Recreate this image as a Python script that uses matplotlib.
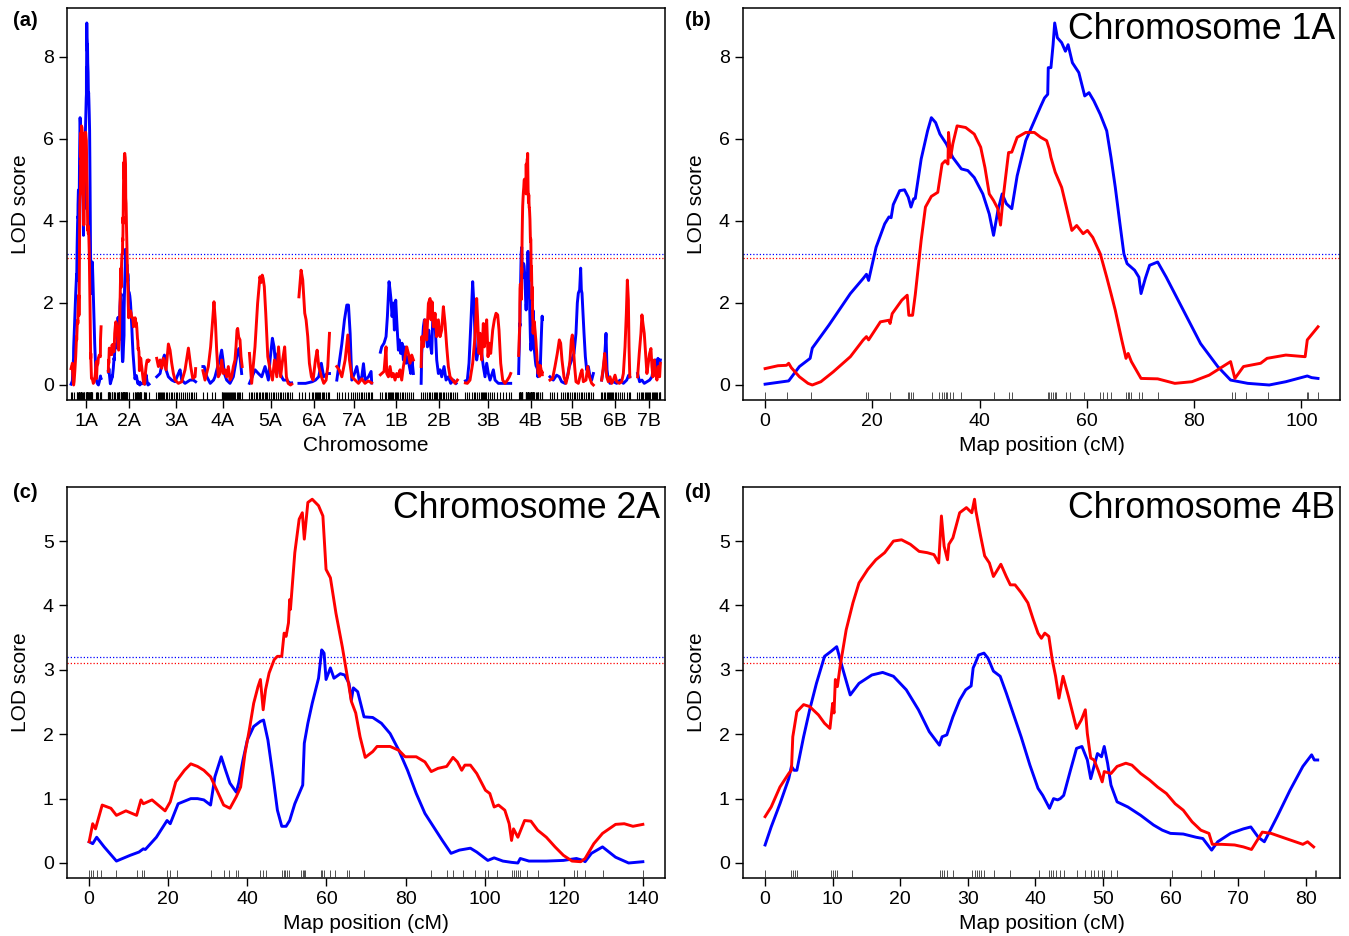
import matplotlib
matplotlib.use('Agg')
import matplotlib.pyplot as plt
import numpy as np

plt.rcParams['font.family'] = ['Liberation Sans', 'DejaVu Sans']

BLUE = '#0000ff'
RED = '#ff0000'

# genome scan layout
chroms = ['1A', '2A', '3A', '4A', '5A', '6A', '7A', '1B', '2B', '3B', '4B', '5B', '6B', '7B']
chrom_len = [103, 140, 135, 135, 145, 105, 120, 120, 125, 160, 82, 150, 100, 80]
gap = 25

# significance thresholds
thr_blue = 3.2
thr_red = 3.1

# ---- chromosome 1A (cM, LOD) ----
c1a_blue = [(0, 0.02), (4.4, 0.1), (6.4, 0.45), (8.4, 0.65), (8.8, 0.9), (11.9, 1.46), (15.9, 2.23),
            (18.3, 2.6), (18.9, 2.7), (19.3, 2.55), (20.7, 3.36), (22.3, 3.93), (23.1, 4.1), (23.5, 4.08),
            (23.9, 4.4), (25.1, 4.74), (26.0, 4.76), (26.7, 4.58), (27.2, 4.34), (27.7, 4.54), (28.0, 4.55),
            (29.1, 5.51), (30.3, 6.2), (31.0, 6.52), (31.8, 6.4), (32.6, 6.12), (33.8, 5.88), (35.0, 5.55),
            (36.6, 5.27), (37.8, 5.23), (39.0, 5.06), (40.6, 4.66), (41.8, 4.17), (42.6, 3.65), (43.4, 4.25),
            (44.2, 4.66), (45.0, 4.42), (46.0, 4.3), (47.0, 5.1), (48.6, 5.96), (50.2, 6.44), (51.4, 6.8),
            (52.1, 7.0), (52.7, 7.09), (52.8, 7.74), (53.3, 7.74), (53.7, 8.3), (54.0, 8.83), (54.5, 8.47),
            (55.3, 8.35), (56.0, 8.14), (56.5, 8.3), (57.3, 7.86), (58.5, 7.62), (59.6, 7.05), (60.4, 7.13),
            (61.3, 6.93), (62.5, 6.6), (63.7, 6.2), (64.5, 5.55), (65.3, 4.82), (66.1, 4.0), (66.9, 3.2),
            (67.5, 2.96), (68.9, 2.8), (69.7, 2.63), (70.1, 2.23), (70.9, 2.6), (71.7, 2.92), (73.2, 3.0),
            (74.8, 2.63), (78.0, 1.82), (81.2, 1.01), (84.4, 0.45), (86.8, 0.12), (90.0, 0.04), (94.0, 0.0),
            (97.1, 0.08), (101.1, 0.22), (101.9, 0.18), (103.1, 0.16)]
c1a_red = [(0, 0.4), (2.4, 0.47), (4.0, 0.48), (4.4, 0.53), (4.9, 0.42), (6.4, 0.2), (8.0, 0.04), (8.8, 0.0),
           (10.4, 0.08), (12.7, 0.32), (15.9, 0.69), (18.3, 1.1), (18.9, 1.18), (19.3, 1.1), (21.5, 1.54),
           (23.1, 1.58), (23.3, 1.5), (23.7, 1.74), (25.5, 2.07), (26.5, 2.19), (26.8, 1.7), (27.5, 1.7),
           (28.0, 2.2), (29.1, 3.53), (29.9, 4.34), (31.0, 4.6), (32.2, 4.7), (33.0, 5.39), (33.6, 5.47),
           (34.1, 5.39), (34.2, 6.16), (34.6, 5.55), (35.0, 5.88), (35.8, 6.32), (37.4, 6.28), (39.0, 6.12),
           (40.2, 5.8), (41.0, 5.3), (41.8, 4.66), (42.6, 4.5), (43.4, 4.3), (43.9, 3.9), (44.4, 4.58),
           (45.4, 5.67), (46.0, 5.68), (47.0, 6.04), (48.6, 6.16), (50.2, 6.16), (51.4, 6.04), (52.5, 5.96),
           (53.0, 5.75), (53.3, 5.55), (54.1, 5.19), (55.3, 4.82), (56.1, 4.38), (57.2, 3.77), (58.1, 3.89),
           (59.3, 3.69), (60.1, 3.77), (61.1, 3.6), (62.5, 3.2), (63.7, 2.63), (64.5, 2.23), (65.3, 1.82),
           (66.5, 1.1), (67.3, 0.65), (67.7, 0.77), (68.3, 0.57), (70.1, 0.16), (73.2, 0.15), (76.4, 0.04),
           (79.6, 0.08), (82.8, 0.24), (86.8, 0.57), (87.6, 0.16), (89.2, 0.45), (92.4, 0.53), (93.6, 0.65),
           (97.1, 0.73), (100.7, 0.69), (101.1, 1.1), (103.1, 1.42)]
c1a_markers = [0, 4.0, 8.6, 18.9, 19.2, 23.3, 26.7, 26.9, 27.2, 27.5, 31.1, 32.5, 33.0, 33.4, 33.7, 34.0,
               34.5, 35.0, 36.6, 42.6, 45.4, 46.0, 52.7, 53.0, 53.3, 53.7, 54.0, 54.3, 56.1, 56.9, 59.5,
               62.5, 63.1, 63.7, 64.5, 67.3, 67.7, 67.9, 68.2, 69.7, 70.2, 73.2, 87.1, 87.7, 89.6, 93.8,
               101.0, 101.3, 103.1]

# ---- chromosome 2A ----
c2a_blue = [(0, 0.33), (0.9, 0.3), (1.9, 0.4), (3.8, 0.25), (6.9, 0.03), (10.4, 0.12), (12.6, 0.17),
            (13.7, 0.22), (14.2, 0.21), (17.0, 0.4), (19.7, 0.66), (20.5, 0.61), (22.5, 0.92), (25.7, 1.0),
            (27.4, 1.0), (29.0, 0.98), (30.7, 0.9), (31.8, 1.34), (33.4, 1.65), (34.5, 1.44), (35.6, 1.24),
            (37.2, 1.1), (37.8, 1.24), (38.9, 1.6), (40.0, 1.91), (41.6, 2.12), (43.3, 2.2), (44.1, 2.22),
            (45.2, 1.91), (46.5, 1.34), (47.6, 0.82), (48.7, 0.57), (49.8, 0.57), (50.7, 0.66), (52.0, 0.92),
            (54.0, 1.21), (54.4, 1.86), (55.3, 2.17), (56.4, 2.48), (58.0, 2.87), (58.8, 3.31), (59.4, 3.26),
            (59.9, 2.85), (61.0, 3.03), (61.9, 2.87), (63.5, 2.94), (64.6, 2.92), (65.7, 2.79), (66.3, 2.53),
            (66.8, 2.72), (67.9, 2.66), (69.5, 2.27), (71.7, 2.26), (73.9, 2.17), (76.1, 2.01), (78.3, 1.75),
            (80.5, 1.44), (82.7, 1.08), (84.9, 0.77), (87.1, 0.56), (89.3, 0.35), (91.5, 0.15), (93.6, 0.2),
            (96.4, 0.23), (98.0, 0.17), (100.8, 0.04), (102.4, 0.08), (104.6, 0.03), (106.8, 0.01),
            (108.4, 0.0), (109.0, 0.07), (111.2, 0.03), (115.6, 0.03), (119.9, 0.04), (123.2, 0.07),
            (124.9, 0.04), (125.4, 0.02), (127.0, 0.15), (129.8, 0.25), (133.1, 0.09), (136.4, 0.0),
            (140.0, 0.02)]
c2a_red = [(0, 0.33), (0.9, 0.61), (1.6, 0.53), (3.3, 0.9), (5.5, 0.85), (6.9, 0.74), (9.3, 0.81), (12.0, 0.74),
           (13.1, 0.98), (13.7, 0.92), (15.9, 0.98), (19.2, 0.81), (20.5, 0.95), (21.9, 1.26), (24.1, 1.44),
           (25.7, 1.54), (27.4, 1.5), (29.0, 1.44), (30.7, 1.34), (32.3, 1.13), (34.0, 0.9), (35.6, 0.85),
           (37.2, 1.03), (38.3, 1.18), (39.4, 1.7), (40.5, 2.07), (41.6, 2.48), (42.7, 2.74), (43.3, 2.85),
           (44.0, 2.38), (44.6, 2.69), (45.5, 2.95), (46.8, 3.16), (47.6, 3.21), (48.7, 3.21), (49.3, 3.57),
           (49.8, 3.52), (50.4, 3.73), (50.7, 4.09), (50.9, 3.94), (52.0, 4.82), (53.1, 5.34), (53.9, 5.44),
           (54.4, 5.03), (55.3, 5.6), (56.4, 5.65), (58.0, 5.55), (59.1, 5.39), (59.9, 4.56), (61.0, 4.43),
           (62.4, 3.88), (64.0, 3.36), (65.7, 2.74), (66.3, 2.51), (67.4, 2.33), (68.5, 1.96), (69.8, 1.64),
           (71.7, 1.73), (72.8, 1.81), (76.1, 1.81), (78.3, 1.75), (79.9, 1.65), (82.7, 1.65), (84.9, 1.57),
           (86.5, 1.42), (88.2, 1.47), (90.4, 1.5), (92.0, 1.64), (93.1, 1.57), (94.2, 1.44), (95.0, 1.52),
           (96.4, 1.52), (98.0, 1.39), (100.2, 1.13), (101.3, 1.08), (102.4, 0.87), (103.5, 0.9),
           (105.1, 0.82), (106.2, 0.61), (106.8, 0.35), (107.3, 0.53), (108.4, 0.4), (110.1, 0.66),
           (111.7, 0.65), (113.4, 0.51), (115.6, 0.4), (117.8, 0.25), (119.9, 0.12), (122.1, 0.03),
           (124.3, 0.02), (125.4, 0.07), (127.6, 0.3), (129.8, 0.46), (133.1, 0.6), (135.3, 0.61),
           (137.5, 0.57), (140.0, 0.6)]
c2a_markers = [0, 0.5, 1.1, 1.9, 3.1, 6.9, 12.0, 13.4, 13.9, 19.7, 20.5, 22.2, 30.9, 34.0, 35.4, 37.2, 37.6,
               43.3, 44.0, 44.6, 48.7, 49.2, 49.6, 50.1, 50.5, 53.6, 54.0, 54.3, 54.7, 58.6, 59.0, 59.5,
               61.0, 62.2, 65.1, 65.8, 69.5, 86.5, 90.4, 92.0, 94.5, 97.5, 100.2, 100.8, 103.0, 106.8,
               107.4, 107.9, 108.4, 109.0, 110.6, 113.4, 122.7, 123.3, 125.4, 129.8, 140.0]

# ---- chromosome 4B ----
c4b_blue = [(0, 0.28), (0.9, 0.56), (2.2, 0.92), (3.5, 1.31), (3.9, 1.5), (4.3, 1.44), (4.7, 1.44), (5.7, 1.96),
            (6.6, 2.38), (7.6, 2.79), (8.8, 3.21), (9.8, 3.29), (10.6, 3.36), (11.4, 3.05), (12.6, 2.61),
            (13.9, 2.79), (15.8, 2.92), (17.4, 2.96), (19.0, 2.9), (20.9, 2.69), (22.7, 2.38), (24.3, 2.04),
            (25.8, 1.83), (26.2, 1.96), (26.9, 1.99), (27.8, 2.27), (28.8, 2.53), (29.7, 2.69), (30.5, 2.75),
            (30.8, 3.03), (31.1, 3.1), (31.6, 3.23), (32.4, 3.26), (33.0, 3.18), (33.8, 2.98), (34.8, 2.9),
            (35.7, 2.64), (36.7, 2.33), (37.9, 1.96), (39.2, 1.52), (40.4, 1.16), (41.1, 1.05), (42.1, 0.85),
            (42.7, 1.0), (43.3, 0.98), (43.7, 1.0), (44.2, 1.05), (45.2, 1.44), (46.1, 1.78), (46.9, 1.81),
            (47.7, 1.6), (48.2, 1.31), (49.2, 1.7), (49.8, 1.65), (50.2, 1.81), (50.7, 1.55), (51.2, 1.21),
            (52.1, 0.95), (53.7, 0.87), (55.6, 0.74), (57.5, 0.59), (58.8, 0.51), (60.0, 0.46), (61.9, 0.45),
            (63.8, 0.4), (64.8, 0.38), (66.1, 0.2), (67.0, 0.33), (68.9, 0.46), (70.8, 0.53), (71.9, 0.56),
            (73.0, 0.4), (73.9, 0.33), (75.8, 0.72), (77.7, 1.13), (79.6, 1.5), (80.9, 1.68), (81.3, 1.6),
            (81.8, 1.6)]
c4b_red = [(0, 0.72), (0.9, 0.87), (2.2, 1.18), (3.5, 1.39), (3.9, 1.44), (4.1, 1.96), (4.7, 2.35), (5.7, 2.46),
           (6.6, 2.43), (7.9, 2.3), (8.8, 2.17), (9.6, 2.09), (10.0, 2.48), (10.2, 2.33), (10.4, 2.85),
           (10.7, 2.74), (11.1, 3.05), (12.0, 3.62), (13.0, 4.04), (13.9, 4.35), (15.2, 4.56), (16.4, 4.71),
           (17.7, 4.82), (19.0, 5.0), (20.2, 5.02), (21.5, 4.95), (22.8, 4.84), (24.0, 4.82), (25.0, 4.79),
           (25.7, 4.66), (26.1, 5.39), (26.5, 4.92), (27.0, 4.71), (27.2, 4.95), (27.8, 5.05), (28.8, 5.44),
           (29.8, 5.52), (30.6, 5.44), (31.0, 5.65), (31.2, 5.47), (31.9, 5.08), (32.5, 4.77), (33.2, 4.66),
           (33.8, 4.45), (34.9, 4.64), (35.7, 4.45), (36.3, 4.32), (37.0, 4.32), (37.9, 4.2), (38.9, 4.04),
           (39.7, 3.78), (40.4, 3.57), (40.9, 3.49), (41.4, 3.57), (42.0, 3.52), (42.5, 3.16), (43.0, 2.9),
           (43.5, 2.56), (44.1, 2.9), (44.9, 2.59), (46.1, 2.09), (46.8, 2.22), (47.4, 2.38), (47.7, 2.01),
           (48.2, 1.63), (48.7, 1.6), (49.3, 1.44), (49.9, 1.26), (50.2, 1.42), (51.2, 1.39), (52.1, 1.5),
           (53.4, 1.55), (54.3, 1.52), (55.6, 1.39), (56.9, 1.29), (58.1, 1.18), (59.4, 1.08), (60.7, 0.92),
           (61.9, 0.82), (63.2, 0.64), (64.5, 0.51), (65.7, 0.46), (66.2, 0.29), (67.6, 0.29), (69.5, 0.28),
           (70.8, 0.25), (72.0, 0.21), (73.6, 0.48), (74.9, 0.46), (77.1, 0.38), (79.6, 0.29), (80.3, 0.33),
           (81.2, 0.25)]
c4b_markers = [0, 3.9, 4.1, 4.4, 4.7, 9.8, 10.1, 10.4, 10.6, 12.9, 25.9, 26.2, 26.5, 26.9, 27.8, 30.6, 31.0,
               31.3, 31.6, 31.9, 32.4, 33.9, 36.3, 40.6, 42.0, 42.3, 42.6, 43.0, 43.6, 44.2, 46.1, 47.4,
               48.2, 48.7, 49.3, 49.9, 50.2, 51.2, 52.1, 60.3, 64.5, 66.4, 66.5, 73.9, 81.4, 81.6]

# ---- remaining chromosomes (genome scan only) ----
c3a_blue = [(1.3, 0.2), (12.8, 0.28), (22, 0.61), (27.7, 0.73), (33.4, 0.37), (41.4, 0.2), (52.9, 0.12),
            (64.3, 0.08), (75.8, 0.28), (81.5, 0.37), (87.3, 0.12), (98.7, 0.04), (115.9, 0.12),
            (127.4, 0.12), (135, 0.08)]
c3a_red = [(1.3, 0.65), (7.1, 0.45), (12.8, 0.61), (18.5, 0.41), (24.3, 0.65), (33.4, 0.37), (41.4, 1.0),
           (47.1, 0.85), (52.9, 0.53), (58.6, 0.28), (64.3, 0.12), (75.8, 0.04), (87.3, 0.08), (98.7, 0.37),
           (110.2, 0.9), (118.2, 0.45), (125.1, 0.16), (133.1, 0.2), (135, 0.4)]
c3a_markers = [0, 4, 8, 12, 15, 19, 24, 28, 33, 38, 44, 50, 55, 61, 66, 72, 78, 84, 90, 97, 104, 112, 118,
               124, 130, 135]

c4a_blue = [(0, 0.45), (4.6, 0.45), (13.7, 0.2), (25.2, 0.04), (36.6, 0.12), (41.6, 0.2), (50.8, 0.45),
            (57.7, 0.61), (64.5, 0.85), (69.1, 0.61), (73.7, 0.28), (81.7, 0.12), (93.1, 0.04), (104.6, 0.2),
            (112.6, 0.53), (118.3, 0.77), (124, 0.89), (128.6, 0.61), (133.2, 0.28)]
c4a_red = [(0, 0.35), (7.2, 0.12), (18.6, 0.45), (26.6, 0.93), (33.5, 1.58), (38.1, 2.03), (42.7, 1.58),
           (47.3, 0.85), (53, 0.2), (58.8, 0.28), (64.5, 0.61), (70.2, 0.28), (75.9, 0.37), (81.7, 0.2),
           (87.4, 0.45), (93.1, 0.12), (98.9, 0.2), (104.6, 0.45), (110.3, 0.61), (113.8, 0.93),
           (117.2, 1.34), (119.5, 1.38), (122.9, 1.17), (127.5, 1.1), (131, 0.69), (135, 0.45)]
c4a_markers = [1, 13, 33, 41, 64, 67, 70, 73, 76, 79, 82, 85, 88, 92, 96, 100, 104, 108, 112, 116, 120, 124,
               128, 133]

c5a_blue = [(0, 0.04), (19.2, 0.37), (30.7, 0.28), (42.1, 0.2), (53.6, 0.45), (65, 0.12), (70.8, 0.61),
            (78.8, 1.14), (84.5, 0.93), (90.3, 0.45), (97.1, 0.77), (105.2, 0.28), (116.6, 0.12),
            (128.1, 0.12), (139.5, 0.04), (145, 0.05)]
c5a_red = [(0, 0.77), (7.6, 0.04), (19, 0.93), (28, 1.99), (36, 2.64), (40, 2.5), (44, 2.68), (47, 2.6),
           (51, 2.4), (56, 1.75), (63, 0.69), (71, 0.37), (79, 0.12), (86, 0.61), (94, 0.2), (100, 0.93),
           (107, 0.2), (114, 0.61), (121, 0.93), (127, 0.2), (133, 0.04), (141, 0.0), (145, 0.02)]
c5a_markers = [0, 5, 10, 16, 22, 27, 32, 37, 42, 47, 52, 57, 62, 68, 74, 80, 86, 92, 98, 104, 110, 116, 122,
               128, 134, 140, 145]

c6a_blue = [(0, 0.04), (23, 0.04), (46, 0.08), (57, 0.12), (68, 0.2), (77, 0.53), (85, 0.2), (97, 0.28),
            (105, 0.28)]
c6a_red = [(0, 2.15), (7.4, 2.8), (13.1, 2.56), (20, 1.75), (24.6, 1.59), (30.3, 1.18), (36, 0.53),
           (43, 0.2), (48.7, 0.12), (56.7, 0.61), (62.5, 0.85), (68.2, 0.45), (77.4, 0.2), (85.4, 0.04),
           (93.4, 0.12), (99.1, 0.45), (105, 1.26)]
c6a_markers = [0, 10, 20, 33, 45, 50, 54, 58, 62, 66, 70, 74, 78, 82, 86, 92, 100, 105]

c7a_blue = [(0.2, 0.12), (8.2, 0.53), (17.4, 1.0), (26.5, 1.59), (34.5, 1.95), (40.3, 1.95), (46, 1.26),
            (51.7, 0.12), (60.9, 0.28), (68.9, 0.45), (76.9, 0.12), (86.1, 0.2), (91.8, 0.52), (97.5, 0.12),
            (109, 0.2), (118, 0.33), (120, 0.05)]
c7a_red = [(0.2, 0.45), (8.2, 0.37), (17.4, 0.2), (28.8, 0.61), (38, 1.22), (43.7, 0.61), (51.7, 0.2),
           (63.2, 0.12), (74.6, 0.04), (86, 0.15), (97, 0.04), (108, 0.1), (120, 0.05)]
c7a_markers = [0, 8, 18, 30, 40, 48, 56, 64, 70, 76, 82, 88, 94, 100, 106, 112, 116, 120]

c1b_blue = [(5, 0.8), (9.5, 0.93), (17.5, 1.02), (24.4, 1.18), (29, 1.67), (34.7, 2.52), (38.1, 2.32),
            (41.6, 2.07), (45, 1.67), (49.6, 2.0), (53, 1.34), (57.6, 2.07), (61, 1.59), (66.8, 0.85),
            (70.2, 1.1), (74.8, 0.77), (79.4, 1.02), (84, 0.61), (88.5, 0.93), (93.1, 0.53), (98.8, 0.69),
            (104.6, 0.45), (109.2, 0.28), (113.7, 0.61), (118.3, 0.28)]
c1b_red = [(5, 0.25), (9.5, 0.28), (17.5, 0.33), (24.4, 0.93), (26.7, 0.28), (32.4, 0.2), (38.1, 0.45),
           (43.9, 0.2), (49.6, 0.28), (55.3, 0.12), (61, 0.28), (66.8, 0.2), (72.5, 0.37), (78.2, 0.12),
           (84, 0.45), (89.7, 0.69), (95.4, 0.93), (101.2, 0.77), (106.9, 0.53), (112.6, 0.73), (118.3, 0.61)]
c1b_markers = [5, 12, 20, 25, 30, 34, 38, 42, 46, 50, 54, 58, 62, 66, 72, 78, 84, 90, 96, 102, 110, 118]

c2b_blue = [(0, 0.04), (2, 0.77), (7.7, 1.42), (11.2, 1.59), (16.9, 1.26), (21.5, 0.93), (26, 1.34),
            (30.6, 1.02), (36.3, 0.77), (39.8, 1.59), (44.3, 1.75), (48.9, 1.34), (53.5, 0.61), (59.2, 0.28),
            (65, 0.37), (70.7, 0.2), (78.7, 0.45), (85.6, 0.12), (93.6, 0.2), (101.6, 0.04), (110.8, 0.12),
            (120, 0.04)]
c2b_red = [(0, 0.45), (2, 1.18), (7.7, 0.93), (13.4, 1.59), (19.1, 1.1), (24.9, 1.99), (30.6, 2.11),
           (34, 1.59), (37.5, 2.03), (42, 1.42), (47.8, 1.75), (53.5, 1.18), (59.2, 1.59), (65, 1.18),
           (70.7, 1.34), (76.4, 1.91), (82.2, 1.5), (87.9, 0.93), (93.6, 0.45), (99.4, 0.2), (108.5, 0.12),
           (116.5, 0.04), (124.5, 0.12)]
c2b_markers = [0, 5, 12, 20, 26, 32, 38, 44, 48, 52, 56, 60, 64, 68, 74, 80, 86, 92, 98, 104, 110, 116, 122]

c3b_blue = [(2, 0.1), (8.7, 0.12), (14.5, 0.53), (21.4, 1.59), (27.1, 2.52), (31.7, 1.91), (36.3, 0.93),
            (40.8, 0.61), (46.6, 0.85), (52.3, 1.26), (58, 0.77), (63.7, 0.45), (69.5, 0.2), (75.2, 0.53),
            (80.9, 0.28), (86.7, 0.12), (98.2, 0.37), (103.9, 0.12), (115.3, 0.04), (132.5, 0.04),
            (149.7, 0.04), (157.7, 0.04)]
c3b_red = [(2, 0.05), (8.7, 0.04), (17.9, 0.12), (27.1, 0.53), (35.1, 1.18), (40.8, 2.11), (44.3, 1.59),
           (48.9, 0.77), (52.3, 1.26), (58, 0.61), (63.7, 1.5), (67.2, 0.93), (71.8, 1.34), (75.2, 1.59),
           (79.8, 0.69), (84.4, 1.02), (89, 0.77), (95.9, 1.34), (101.6, 1.59), (107.3, 1.75), (113, 1.71),
           (117.6, 1.34), (123.4, 0.53), (130.2, 0.12), (138.2, 0.04), (146.3, 0.12), (153.1, 0.2),
           (157.7, 0.28)]
c3b_markers = [0, 8, 16, 24, 30, 36, 42, 48, 54, 58, 62, 66, 70, 74, 80, 86, 92, 100, 110, 120, 130, 142,
               152, 160]

c5b_blue = [(0.7, 0.2), (12.1, 0.12), (23.6, 0.24), (32.8, 0.2), (40.8, 0.08), (52.3, 0.04), (60.3, 0.2),
            (67.2, 0.45), (75.2, 0.61), (83.2, 0.77), (90.1, 1.26), (94.7, 2.0), (98.2, 2.24), (102.7, 2.32),
            (106.2, 2.85), (108.5, 2.32), (110.8, 2.24), (114.2, 1.75), (117.7, 1.26), (122.3, 0.69),
            (126.8, 0.37), (132.6, 0.45), (138.3, 0.2), (144, 0.12), (149.8, 0.28)]
c5b_red = [(0.7, 0.12), (9.8, 0.16), (17.9, 0.45), (25.9, 0.77), (32.8, 1.1), (37.4, 1.02), (42, 0.61),
           (48.8, 0.2), (55.7, 0.04), (63.7, 0.28), (69.5, 0.61), (74.1, 1.1), (77.5, 1.22), (81, 0.93),
           (85.5, 0.45), (90.1, 0.08), (98.2, 0.04), (106.2, 0.28), (110.8, 0.37), (115.4, 0.08),
           (124.5, 0.12), (130.3, 0.45), (136, 0.2), (144, 0.04), (149.8, 0.0)]
c5b_markers = [0, 6, 14, 26, 38, 46, 52, 58, 64, 70, 76, 82, 88, 94, 100, 106, 112, 118, 124, 130, 136,
               142, 148]

c6b_blue = [(3.3, 0.12), (9.1, 0.37), (13.7, 0.69), (18.3, 1.26), (21.7, 0.37), (26.3, 0.12), (32, 0.04),
            (43.5, 0.08), (55, 0.04), (66.4, 0.12), (77.9, 0.04), (89.4, 0.12), (96.2, 0.24), (100, 0.2)]
c6b_red = [(3.3, 0.12), (9.1, 0.45), (13.7, 0.77), (17.1, 0.53), (20.6, 0.2), (26.3, 0.08), (32, 0.2),
           (37.8, 0.04), (43.5, 0.12), (49.2, 0.24), (55, 0.08), (64.1, 0.04), (72.2, 0.08), (77.9, 0.28),
           (83.6, 0.93), (88.2, 1.75), (91.6, 2.56), (95.1, 2.07), (97.4, 0.93), (100, 0.2)]
c6b_markers = [0, 6, 12, 16, 20, 24, 28, 32, 36, 40, 44, 48, 54, 60, 66, 72, 80, 90, 96, 100]

c7b_blue = [(1.8, 0.28), (8.7, 0.08), (16.7, 0.12), (24.7, 0.04), (33.9, 0.08), (43.1, 0.12), (51.1, 0.2),
            (56.8, 0.45), (62.6, 0.61), (68.3, 0.37), (71.8, 0.65), (76.3, 0.45), (80, 0.61)]
c7b_red = [(1.8, 0.2), (7.5, 0.77), (13.3, 1.26), (16.7, 1.71), (20.2, 1.5), (24.7, 1.26), (29.3, 0.77),
           (33.9, 0.28), (38.5, 0.53), (43.1, 0.77), (47.7, 0.89), (51.1, 0.45), (54.5, 0.2), (59.1, 0.61),
           (63.7, 0.28), (68.3, 0.12), (72.9, 0.45), (77.5, 0.2), (80, 0.53)]
c7b_markers = [0, 8, 14, 18, 22, 26, 30, 34, 38, 42, 46, 50, 54, 58, 62, 66, 70, 74, 78, 80]

scan_blue = [c1a_blue, c2a_blue, c3a_blue, c4a_blue, c5a_blue, c6a_blue, c7a_blue,
             c1b_blue, c2b_blue, c3b_blue, c4b_blue, c5b_blue, c6b_blue, c7b_blue]
scan_red = [c1a_red, c2a_red, c3a_red, c4a_red, c5a_red, c6a_red, c7a_red,
            c1b_red, c2b_red, c3b_red, c4b_red, c5b_red, c6b_red, c7b_red]
scan_markers = [c1a_markers, c2a_markers, c3a_markers, c4a_markers, c5a_markers, c6a_markers, c7a_markers,
                c1b_markers, c2b_markers, c3b_markers, c4b_markers, c5b_markers, c6b_markers, c7b_markers]


def xy(series, offset=0):
    arr = np.array(series, dtype=float)
    return arr[:, 0] + offset, arr[:, 1]


def style_axes(ax):
    for s in ax.spines.values():
        s.set_linewidth(1.1)
    ax.tick_params(direction='out', length=6, width=1, labelsize=14)


def thresholds(ax):
    ax.axhline(thr_blue, color=BLUE, lw=0.9, ls=(0, (1, 1.6)), zorder=1)
    ax.axhline(thr_red, color=RED, lw=0.9, ls=(0, (1, 1.6)), zorder=1)


def rug(ax, pos, lw=0.6, color='k'):
    ax.vlines(pos, 0, 0.02, transform=ax.get_xaxis_transform(), color=color, lw=lw, zorder=3)


W, H = 1349, 936
fig = plt.figure(figsize=(W / 100, H / 100), dpi=100)

def add_ax(l, t, r, b):
    return fig.add_axes([l / W, 1 - b / H, (r - l) / W, (b - t) / H])

ax_a = add_ax(67, 8, 665, 400)
ax_b = add_ax(743, 8, 1340, 400)
ax_c = add_ax(67, 487, 665, 878)
ax_d = add_ax(743, 487, 1340, 878)

LW = 2.1

# ---- (a) genome-wide scan ----
starts = np.concatenate([[0], np.cumsum(np.array(chrom_len[:-1]) + gap)])
centers = starts + np.array(chrom_len) / 2
thresholds(ax_a)
for i in range(len(chroms)):
    x, y = xy(scan_blue[i], starts[i])
    ax_a.plot(x, y, color=BLUE, lw=LW, zorder=2)
    x, y = xy(scan_red[i], starts[i])
    ax_a.plot(x, y, color=RED, lw=LW, zorder=2)
    rug(ax_a, np.array(scan_markers[i]) + starts[i], lw=0.8)
ax_a.set_xlim(-14, starts[-1] + chrom_len[-1] + 16)
ax_a.set_ylim(-0.366, 9.195)
ax_a.set_xticks(centers)
ax_a.set_xticklabels(chroms)
ax_a.set_yticks([0, 2, 4, 6, 8])
ax_a.set_xlabel('Chromosome', fontsize=15, labelpad=4)
ax_a.set_ylabel('LOD score', fontsize=15, labelpad=9)
style_axes(ax_a)

# ---- (b)-(d) single chromosome scans ----
panels = [(ax_b, c1a_blue, c1a_red, c1a_markers, 'Chromosome 1A', (-4.12, 107.2), (-0.366, 9.195), [0, 2, 4, 6, 8]),
          (ax_c, c2a_blue, c2a_red, c2a_markers, 'Chromosome 2A', (-5.6, 145.6), (-0.233, 5.84), [0, 1, 2, 3, 4, 5]),
          (ax_d, c4b_blue, c4b_red, c4b_markers, 'Chromosome 4B', (-3.27, 85.1), (-0.233, 5.84), [0, 1, 2, 3, 4, 5])]
for ax, sb, sr, mk, title, xl, yl, yt in panels:
    thresholds(ax)
    x, y = xy(sb)
    ax.plot(x, y, color=BLUE, lw=LW, zorder=2)
    x, y = xy(sr)
    ax.plot(x, y, color=RED, lw=LW, zorder=2)
    rug(ax, mk, lw=0.6, color='#333333')
    ax.set_xlim(*xl)
    ax.set_ylim(*yl)
    ax.set_yticks(yt)
    ax.set_xlabel('Map position (cM)', fontsize=15, labelpad=4)
    ax.set_ylabel('LOD score', fontsize=15, labelpad=9)
    ax.text(0.992, 0.99, title, transform=ax.transAxes, ha='right', va='top', fontsize=25.7)
    style_axes(ax)

for lab, x, y in [('(a)', 13, 21), ('(b)', 685, 21), ('(c)', 13, 492), ('(d)', 685, 492)]:
    fig.text(x / W, 1 - y / H, lab, fontsize=14.5, fontweight='bold', va='center', ha='left')

fig.savefig('out.png', dpi=100)
